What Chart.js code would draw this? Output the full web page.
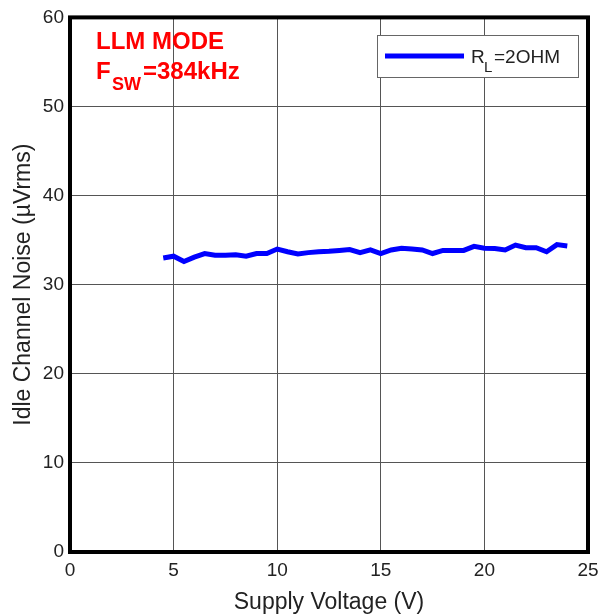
<!DOCTYPE html>
<html>
<head>
<meta charset="utf-8">
<script src="https://cdn.jsdelivr.net/npm/chart.js@4"></script>
<style>
  html, body { margin: 0; padding: 0; background: #fff; }
  #wrap { width: 616px; height: 616px; }
</style>
</head>
<body>
<div id="wrap"><canvas id="noiseChart"></canvas></div>
<script>
// Supply voltage (V) and idle channel noise (uVrms), RL = 2 ohm
const supplyVolts = [4.5, 5, 5.5, 6, 6.5, 7, 7.5, 8, 8.5, 9, 9.5, 10, 10.5, 11, 11.5, 12, 12.5, 13, 13.5, 14,
  14.5, 15, 15.5, 16, 16.5, 17, 17.5, 18, 18.5, 19, 19.5, 20, 20.5, 21, 21.5, 22, 22.5, 23, 23.5, 24];
const noise2Ohm = [33.0, 33.2, 32.6, 33.1, 33.5, 33.3, 33.3, 33.35, 33.2, 33.5, 33.5, 34.0, 33.7, 33.45, 33.6, 33.7, 33.75, 33.85, 33.95, 33.6,
  33.9, 33.5, 33.9, 34.1, 34.0, 33.9, 33.5, 33.85, 33.85, 33.85, 34.3, 34.1, 34.05, 33.9, 34.45, 34.15, 34.15, 33.7, 34.5, 34.35];
const xTicks = [0, 5, 10, 15, 20, 25];
const yTicks = [0, 10, 20, 30, 40, 50, 60];

const FONT = "'Liberation Sans', Arial, sans-serif";

// frame, notes and legend box
const decorations = {
  id: 'decorations',
  afterDatasetsDraw(chart) {
    const { ctx, chartArea: a } = chart;
    ctx.save();
    // heavy frame
    ctx.strokeStyle = '#000';
    ctx.lineWidth = 4;
    ctx.strokeRect(a.left, a.top, a.right - a.left, a.bottom - a.top);

    // red notes
    ctx.fillStyle = '#ff0000';
    ctx.textBaseline = 'alphabetic';
    ctx.font = 'bold 24px ' + FONT;
    ctx.fillText('LLM MODE', 96, 49);
    ctx.fillText('F', 96, 79);
    ctx.font = 'bold 18px ' + FONT;
    ctx.fillText('SW', 112, 90);
    ctx.font = 'bold 24px ' + FONT;
    ctx.fillText('=384kHz', 143, 79);

    // legend box
    ctx.fillStyle = '#fff';
    ctx.fillRect(377, 35, 201, 42);
    ctx.strokeStyle = '#666';
    ctx.lineWidth = 1;
    ctx.strokeRect(377.5, 35.5, 201, 42);
    ctx.strokeStyle = '#0000ff';
    ctx.lineWidth = 5;
    ctx.beginPath();
    ctx.moveTo(385, 56);
    ctx.lineTo(464, 56);
    ctx.stroke();
    ctx.fillStyle = '#222';
    ctx.font = '19px ' + FONT;
    ctx.fillText('R', 471, 63);
    ctx.font = '15px ' + FONT;
    ctx.fillText('L', 484, 72);
    ctx.font = '19px ' + FONT;
    ctx.fillText('=2OHM', 494, 63);
    ctx.restore();
  }
};

new Chart(document.getElementById('noiseChart').getContext('2d'), {
  type: 'line',
  data: {
    datasets: [{
      label: 'RL=2OHM',
      data: supplyVolts.map((v, i) => ({ x: v, y: noise2Ohm[i] })),
      borderColor: '#0000ff',
      borderWidth: 5,
      pointRadius: 0,
      tension: 0,
      fill: false
    }]
  },
  options: {
    responsive: true,
    maintainAspectRatio: false,
    animation: false,
    layout: { padding: { top: 15, right: 28, left: 0, bottom: 0 } },
    plugins: {
      legend: { display: false },
      tooltip: { enabled: false }
    },
    scales: {
      x: {
        type: 'linear',
        min: 0,
        max: 25,
        afterBuildTicks: (s) => { s.ticks = xTicks.map(v => ({ value: v })); },
        afterFit: (s) => { s.height = 64; },
        grid: { color: '#555', lineWidth: 1, drawTicks: false },
        border: { display: false },
        ticks: { color: '#222', font: { family: FONT, size: 19 }, padding: 7, maxRotation: 0 },
        title: {
          display: true,
          text: 'Supply Voltage (V)',
          color: '#222',
          font: { family: FONT, size: 23 },
          padding: { top: 0, bottom: 0 }
        }
      },
      y: {
        min: 0,
        max: 60,
        afterBuildTicks: (s) => { s.ticks = yTicks.map(v => ({ value: v })); },
        afterFit: (s) => { s.width = 70; },
        grid: { color: '#555', lineWidth: 1, drawTicks: false },
        border: { display: false },
        ticks: { color: '#222', font: { family: FONT, size: 19 }, padding: 6 },
        title: {
          display: true,
          text: 'Idle Channel Noise (\u00b5Vrms)',
          color: '#222',
          font: { family: FONT, size: 23 },
          padding: { top: 10, bottom: 4 }
        }
      }
    }
  },
  plugins: [decorations]
});
</script>
</body>
</html>
